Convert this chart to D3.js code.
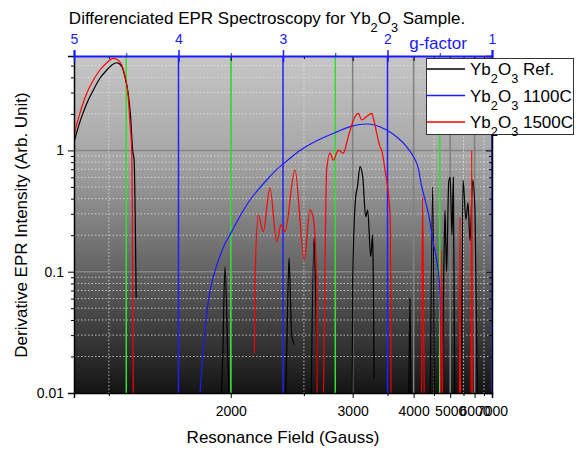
<!DOCTYPE html>
<html><head><meta charset="utf-8">
<script src="https://cdn.jsdelivr.net/npm/d3@7/dist/d3.min.js"></script>
<style>body{margin:0;background:#fff}svg{display:block}text{font-family:"Liberation Sans",Arial,sans-serif}</style>
</head><body><svg id="c" width="579" height="450"></svg>
<script>
// ---- data ----
const refField = [1400,1416,1435,1454,1473,1494,1514,1525,1541,1551,1562,1570,1577,1582,1589,null,
  1940,1957,1969,1984,2000,null,2345,2364,2379,2400,2420,null,2560,2590,2600,2620,2640,null,
  2990,3000,3038,3060,3093,3130,3169,3197,3240,3268,3277,3290,null,3890,3922,3950,null,
  4393,4466,4529,4700,4790,4828,4880,4950,5000,5060,5110,5160,5400,5479,5605,5693,5783,5909,6020,6173];
const refValue = [1.17,1.72,2.44,3.15,3.93,4.6,5.15,5.28,4.9,4.05,2.96,1.9,1.0,0.83,0.061,null,
  0.004,0.02,0.11,0.02,0.004,null,0.004,0.03,0.13,0.03,0.025,null,0.004,0.19,0.1,0.014,0.004,null,
  0.004,0.0855,0.415,0.5,0.734,0.6,0.284,0.322,0.133,0.201,0.0855,0.0133,null,0.004,0.06,0.004,null,
  0.004,0.5,0.004,0.004,0.1,0.32,0.1,0.55,0.6,0.2,0.6,0.01,0.004,0.57,0.27,0.37,0.18,0.57,0.32,0.004];
const c1100Field = [1835,1845,1870,1893,1920,1969,2005,2060,2111,2160,2218,2290,2371,2467,2614,2816,2968,3160,3300,3487,3680,3854,4068,4185,4349,4482,4578,4653,4690];
const c1100Value = [0.006,0.01,0.035,0.07,0.105,0.17,0.214,0.3,0.39,0.47,0.57,0.7,0.834,1.0,1.2,1.42,1.57,1.65,1.62,1.47,1.27,1.07,0.787,0.502,0.305,0.172,0.125,0.0855,0.006];
const c1500Field = [1400,1416,1435,1454,1473,1494,1514,1525,1541,1551,1562,1568,1574,1576,1580,null,
  2138,2142,2163,2195,2240,2287,2319,2348,2426,2503,2553,2583,2614,2622,2668,2711,2745,2779,2833,2889,2947,3029,3071,3115,3183,3254,3277,3328,3379,3406,3459,3542,3554,3562,
  4175,4205,4260,4680,4720,4760,5330,5359,5390,5820,5861,5900,6000];
const c1500Value = [1.34,2.03,2.96,3.8,4.6,5.28,5.74,5.64,5.06,4.18,2.77,1.68,1.0,0.3,0.004,null,
  0.0213,0.0855,0.293,0.214,0.49,0.177,0.243,0.214,0.69,0.125,0.323,0.277,0.0855,0.004,0.004,0.69,0.95,0.83,1.0,0.95,1.3,1.9,2.02,1.78,1.9,2.02,1.85,1.39,1.07,1.0,0.69,0.305,0.0855,0.004,
  0.004,0.41,0.004,0.004,0.15,0.004,0.004,0.28,0.004,0.004,1.0,0.004,0.004];
const fieldMajor = [2000,3000,4000,5000,6000,7000];
const fieldMinor = [1500,2500,3500,4500,5500,6500];
const gMajor = [5,4,3,2,1];
const gMinor = [4.5,3.5,2.5,1.5];
const yMajor = [0.01,0.1,1];
const seriesNames = ["Ref.","1100C","1500C"];
const seriesColors = ["#000000","#1a1aff","#ff0000"];

// ---- layout ----
const svg = d3.select("#c");
const L=74,R=492,T=56,B=393;
const xr = d3.scaleLinear().domain([1/1400,1/7000]).range([L,R]);
const x = b => xr(1/b);
const gx = d3.scaleLinear().domain([5,1]).range([L,R]);
const y = d3.scaleLog().domain([0.01,6]).range([B,T]);
const yMinor = [];
[0.01,0.1,1].forEach(d=>{for(let k=2;k<=9;k++){const v=d*k; if(v<6.01) yMinor.push(+v.toPrecision(3));}});

const defs = svg.append("defs");
const grad = defs.append("linearGradient").attr("id","bg").attr("x1",0).attr("y1",0).attr("x2",0).attr("y2",1);
grad.append("stop").attr("offset","0%").attr("stop-color","#c6c6c6");
grad.append("stop").attr("offset","30%").attr("stop-color","#a6a6a6");
grad.append("stop").attr("offset","65%").attr("stop-color","#616161");
grad.append("stop").attr("offset","100%").attr("stop-color","#141414");
defs.append("clipPath").attr("id","clip").append("rect").attr("x",L).attr("y",T).attr("width",R-L).attr("height",B-T);

svg.append("rect").attr("x",L).attr("y",T).attr("width",R-L).attr("height",B-T).attr("fill","url(#bg)");
const plot = svg.append("g").attr("clip-path","url(#clip)");

// grid
plot.selectAll(".hm").data(yMinor).join("line").attr("x1",L).attr("x2",R).attr("y1",d=>y(d)).attr("y2",d=>y(d))
  .attr("stroke","#e8e8e8").attr("stroke-width",1).attr("stroke-dasharray","1.5,2").attr("opacity",0.75);
plot.selectAll(".hM").data([0.1,1]).join("line").attr("x1",L).attr("x2",R).attr("y1",d=>y(d)).attr("y2",d=>y(d))
  .attr("stroke","#858585").attr("stroke-width",1.5);
plot.selectAll(".vm").data(fieldMinor).join("line").attr("y1",T).attr("y2",B).attr("x1",d=>x(d)).attr("x2",d=>x(d))
  .attr("stroke","#e8e8e8").attr("stroke-width",1).attr("stroke-dasharray","1.5,2").attr("opacity",0.75);
plot.selectAll(".vM").data(fieldMajor).join("line").attr("y1",T).attr("y2",B).attr("x1",d=>x(d)).attr("x2",d=>x(d))
  .attr("stroke","#808080").attr("stroke-width",1.5);
plot.selectAll(".gm").data(gMinor).join("line").attr("y1",T).attr("y2",B).attr("x1",d=>gx(d)).attr("x2",d=>gx(d))
  .attr("stroke","#33dd33").attr("stroke-width",1.5);
plot.selectAll(".gM").data(gMajor).join("line").attr("y1",T).attr("y2",B).attr("x1",d=>gx(d)).attr("x2",d=>gx(d))
  .attr("stroke","#2020ff").attr("stroke-width",1.5);

// series
const mk = (F,V)=>F.map((f,i)=>({f, v:V[i]}));
const mkLine = c => d3.line().defined(d=>d.f!==null && d.v!==null).x(d=>x(d.f)).y(d=>y(Math.max(d.v,0.001))).curve(c);
const series = [mk(refField,refValue), mk(c1100Field,c1100Value), mk(c1500Field,c1500Value)];
const curves = [d3.curveMonotoneX, d3.curveCatmullRom, d3.curveMonotoneX];
series.forEach((s,i)=>plot.append("path").attr("d",mkLine(curves[i])(s)).attr("fill","none").attr("stroke",seriesColors[i]).attr("stroke-width",1.2));

// axes
const fmt = d=>d3.format("d")(Math.round(1/d));
svg.append("g").attr("transform",`translate(0,${B})`)
  .call(d3.axisBottom(xr).tickValues(fieldMajor.map(b=>1/b)).tickFormat(fmt).tickSizeOuter(0).tickSize(5).tickPadding(8))
  .call(g=>g.select(".domain").attr("stroke-width",1.5))
  .call(g=>g.selectAll("text").attr("font-size",14).attr("fill","#000").style("font-family","Liberation Sans, Arial"));
svg.append("g").attr("transform",`translate(0,${B})`)
  .call(d3.axisBottom(xr).tickValues(fieldMinor.map(b=>1/b)).tickFormat("").tickSizeOuter(0).tickSize(3))
  .call(g=>g.select(".domain").remove());
svg.append("g").attr("transform",`translate(0,${T})`)
  .call(d3.axisBottom(xr).tickValues(fieldMajor.map(b=>1/b)).tickFormat("").tickSizeOuter(0).tickSize(5))
  .call(g=>g.select(".domain").remove());
svg.append("g").attr("transform",`translate(0,${T})`)
  .call(d3.axisBottom(xr).tickValues(fieldMinor.map(b=>1/b)).tickFormat("").tickSizeOuter(0).tickSize(3))
  .call(g=>g.select(".domain").remove());
svg.append("g").attr("transform",`translate(${L},0)`)
  .call(d3.axisLeft(y).tickValues(yMajor).tickFormat(d=>String(d)).tickSizeOuter(0).tickSize(6).tickPadding(4))
  .call(g=>g.select(".domain").attr("stroke-width",1.5))
  .call(g=>g.selectAll("text").attr("font-size",14).attr("fill","#000").style("font-family","Liberation Sans, Arial"));
svg.append("g").attr("transform",`translate(${L},0)`)
  .call(d3.axisLeft(y).tickValues(yMinor).tickFormat("").tickSizeOuter(0).tickSize(3))
  .call(g=>g.select(".domain").remove());
svg.append("g").attr("transform",`translate(${R},0)`)
  .call(d3.axisLeft(y).tickValues(yMajor).tickFormat("").tickSizeOuter(0).tickSize(6))
  .call(g=>g.select(".domain").attr("stroke-width",1.5));
svg.append("g").attr("transform",`translate(${R},0)`)
  .call(d3.axisLeft(y).tickValues(yMinor).tickFormat("").tickSizeOuter(0).tickSize(3))
  .call(g=>g.select(".domain").remove());
svg.append("g").attr("transform",`translate(0,${T})`)
  .call(d3.axisTop(gx).tickValues(gMajor).tickFormat(d3.format("d")).tickSizeOuter(0).tickSize(6).tickPadding(6))
  .call(g=>g.select(".domain").attr("stroke","#1a1aff").attr("stroke-width",2))
  .call(g=>g.selectAll("line").attr("stroke","#1a1aff").attr("stroke-width",1.5).attr("y2",-6).attr("y1",6))
  .call(g=>g.selectAll("text").attr("font-size",14).attr("fill","#1a1aff").style("font-family","Liberation Sans, Arial"));
svg.append("g").attr("transform",`translate(0,${T})`)
  .call(d3.axisTop(gx).tickValues(gMinor).tickFormat("").tickSizeOuter(0).tickSize(3))
  .call(g=>g.select(".domain").remove())
  .call(g=>g.selectAll("line").attr("stroke","#1a1aff"));
svg.append("text").attr("x",438).attr("y",49).attr("text-anchor","middle").attr("font-size",17).attr("fill","#1a1aff").text("g-factor");

// titles
const sub = (sel, parts)=>{parts.forEach(p=>{const t=sel.append("tspan").text(p[0]); if(p[1]) t.attr("baseline-shift","sub").attr("font-size","75%");});};
const title = svg.append("text").attr("x",267).attr("y",24).attr("text-anchor","middle").attr("font-size",17);
sub(title,[["Differenciated EPR Spectroscopy for Yb"],["2",1],["O"],["3",1],[" Sample."]]);
svg.append("text").attr("x",283).attr("y",443).attr("text-anchor","middle").attr("font-size",17).text("Resonance Field (Gauss)");
svg.append("text").attr("transform","translate(27,225) rotate(-90)").attr("text-anchor","middle").attr("font-size",17).text("Derivative EPR Intensity (Arb. Unit)");

// legend
const lg = svg.append("g");
lg.append("rect").attr("x",426.5).attr("y",58.5).attr("width",147).attr("height",76).attr("fill","#fff").attr("stroke","#333").attr("stroke-width",1);
seriesNames.forEach((n,i)=>{
  const yy = 69+i*26.5;
  lg.append("line").attr("x1",427).attr("x2",465).attr("y1",yy).attr("y2",yy).attr("stroke",seriesColors[i]).attr("stroke-width",1.3);
  const t = lg.append("text").attr("x",470).attr("y",yy+6).attr("font-size",17);
  sub(t,[["Yb"],["2",1],["O"],["3",1],[" "+n]]);
});
</script></body></html>
